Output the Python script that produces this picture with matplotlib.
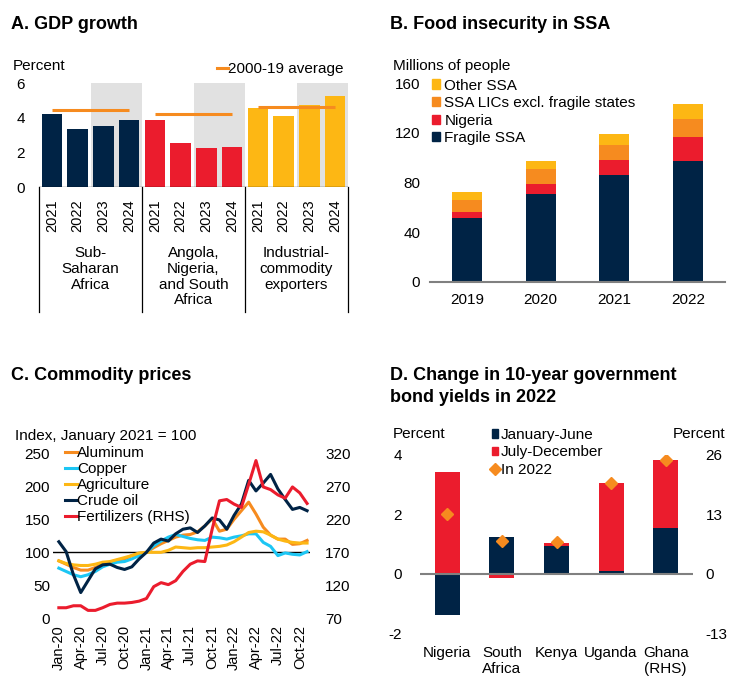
import numpy as np
import matplotlib
matplotlib.use("Agg")
import matplotlib.pyplot as plt
from matplotlib.lines import Line2D
from matplotlib.patches import Patch

plt.rcParams["font.family"] = ["Liberation Sans", "DejaVu Sans"]
plt.rcParams["font.size"] = 11
plt.rcParams["axes.unicode_minus"] = False

# ---------------- data ----------------
# A. GDP growth (percent)
gdp_years = ["2021", "2022", "2023", "2024"]
gdp_groups = ["Sub-\nSaharan\nAfrica",
              "Angola,\nNigeria,\nand South\nAfrica",
              "Industrial-\ncommodity\nexporters"]
gdp_ssa = [4.23, 3.35, 3.54, 3.87]
gdp_ans = [3.87, 2.54, 2.25, 2.35]
gdp_ind = [4.56, 4.13, 4.75, 5.27]
gdp_avg = [4.44, 4.25, 4.65]

# B. Food insecurity (millions of people)
food_years = ["2019", "2020", "2021", "2022"]
food_fragile = [51.5, 70.5, 86.0, 97.0]
food_nigeria = [5.0, 8.5, 12.5, 20.0]
food_lics = [9.0, 11.5, 12.0, 14.0]
food_other = [7.0, 6.5, 8.5, 12.0]

# C. Commodity prices, monthly Jan-20 .. Nov-22 (Jan 2021 = 100)
month_ticks = ["Jan-20", "Apr-20", "Jul-20", "Oct-20", "Jan-21", "Apr-21",
               "Jul-21", "Oct-21", "Jan-22", "Apr-22", "Jul-22", "Oct-22"]
aluminum = [87, 82, 77, 73, 73, 77, 82, 85, 88, 90, 95, 98,
            100, 107, 113, 118, 123, 126, 127, 131, 140, 151,
            132, 135, 150, 163, 176, 158, 138, 126, 120, 120, 112, 113, 118]
copper = [76, 71, 66, 63, 66, 71, 78, 82, 85, 86, 90, 95,
          100, 110, 117, 123, 127, 124, 121, 119, 118, 123,
          122, 120, 123, 125, 128, 128, 115, 109, 95, 99, 97, 96, 101]
agriculture = [87, 83, 81, 80, 80, 82, 85, 86, 89, 92, 95, 99,
               100, 100, 100, 103, 108, 107, 106, 107, 107, 108,
               109, 111, 116, 123, 130, 132, 131, 126, 120, 117, 115, 114, 114]
crude_oil = [116, 101, 66, 39, 57, 75, 81, 82, 77, 74, 78, 90,
             100, 114, 120, 117, 128, 135, 137, 130, 140, 152,
             149, 135, 156, 173, 209, 193, 205, 218, 196, 180, 165, 168, 163]
fertilizers = [86, 86, 89, 89, 82, 82, 86, 91, 93, 93, 94, 96,
               100, 118, 124, 121, 127, 141, 152, 157, 156, 205,
               248, 250, 243, 238, 273, 309, 269, 265, 257, 252, 269, 260, 244]

# D. Change in 10-year government bond yields (percent; Ghana on RHS)
bond_countries = ["Nigeria", "South\nAfrica", "Kenya", "Uganda", "Ghana\n(RHS)"]
bond_h1 = [-1.40, 1.25, 0.95, 0.10, 10.1]
bond_h2 = [3.42, -0.15, 0.09, 2.96, 14.8]
bond_year = [2.02, 1.09, 1.06, 3.05, 24.9]

# ---------------- styling ----------------
NAVY = "#002345"
RED = "#EB1C2D"
ORANGE = "#F68B1F"
YELLOW = "#FDB714"
CYAN = "#1CC6F4"
SHADE = "#E1E1E1"
GRID = "#808080"

W, H = 733, 677
fig = plt.figure(figsize=(W / 100, H / 100), dpi=100)


def px_axes(x0, y0, x1, y1):
    return fig.add_axes([x0 / W, 1 - y1 / H, (x1 - x0) / W, (y1 - y0) / H])


def fxy(x, y):
    return (x / W, 1 - y / H)


def ftext(x, y, s, **kw):
    kw.setdefault("va", "baseline")
    fig.text(x / W, 1 - y / H, s, **kw)


def strip(ax):
    for sp in ax.spines.values():
        sp.set_visible(False)


# ---------------- A. GDP growth ----------------
ftext(11, 29, "A. GDP growth", fontsize=13, fontweight="bold")
axA = px_axes(39, 83.3, 348, 187.3)
xa = np.arange(12)
valsA = gdp_ssa + gdp_ans + gdp_ind
colsA = [NAVY] * 4 + [RED] * 4 + [YELLOW] * 4
axA.bar(xa, valsA, width=0.8, color=colsA, zorder=2)
for g in range(3):
    axA.axvspan(4 * g + 1.5, 4 * g + 3.5, color=SHADE, lw=0, zorder=0)
    axA.hlines(gdp_avg[g], 4 * g, 4 * g + 3, color=ORANGE, lw=2.2, zorder=3)
axA.set_xlim(-0.5, 11.5)
axA.set_ylim(0, 6)
axA.set_yticks([0, 2, 4, 6])
axA.set_xticks([])
axA.tick_params(axis="y", length=0, pad=10, labelsize=11)
strip(axA)
axA.axhline(0, color="black", lw=0.9, zorder=4)
tA = axA.get_xaxis_transform()
for b in [-0.5, 3.5, 7.5, 11.5]:
    axA.plot([b, b], [0, -1.2], transform=tA, color="black", lw=0.9,
             clip_on=False)
for i in range(12):
    axA.text(xa[i], -0.115, gdp_years[i % 4], rotation=90, ha="center",
             va="top", transform=tA, fontsize=10.5)
for g in range(3):
    axA.text(4 * g + 1.5, -0.565, gdp_groups[g], ha="center", va="top",
             transform=tA, linespacing=1.16)
ftext(13, 70.5, "Percent")
fig.legend(handles=[Line2D([], [], color=ORANGE, lw=2.2)],
           labels=["2000-19 average"], loc="upper left",
           bbox_to_anchor=fxy(217, 62), frameon=False, handlelength=0.75,
           handletextpad=0.0, borderpad=0, borderaxespad=0)

# ---------------- B. Food insecurity ----------------
ftext(390, 29, "B. Food insecurity in SSA", fontsize=13, fontweight="bold")
axB = px_axes(430, 83.3, 725, 281.7)
xb = np.arange(4)
bottom = np.zeros(4)
for vals, col in [(food_fragile, NAVY), (food_nigeria, RED),
                  (food_lics, ORANGE), (food_other, YELLOW)]:
    axB.bar(xb, vals, bottom=bottom, width=0.41, color=col, zorder=2)
    bottom += np.array(vals)
axB.set_xlim(-0.5, 3.5)
axB.set_ylim(0, 160)
axB.set_yticks([0, 40, 80, 120, 160])
axB.set_xticks(xb)
axB.set_xticklabels(food_years)
strip(axB)
axB.spines["bottom"].set_visible(True)
axB.spines["bottom"].set_color(GRID)
axB.spines["bottom"].set_linewidth(1.5)
axB.tick_params(axis="y", length=0, pad=7)
axB.tick_params(axis="x", length=0, pad=8)
ftext(393, 70, "Millions of people")
fig.legend(handles=[Patch(color=YELLOW), Patch(color=ORANGE),
                    Patch(color=RED), Patch(color=NAVY)],
           labels=["Other SSA", "SSA LICs excl. fragile states", "Nigeria",
                   "Fragile SSA"],
           loc="upper left", bbox_to_anchor=fxy(431.5, 78.5), frameon=False,
           handlelength=0.55, handleheight=0.55, handletextpad=0.3,
           labelspacing=0.23, borderpad=0, borderaxespad=0)

# ---------------- C. Commodity prices ----------------
ftext(11, 380, "C. Commodity prices", fontsize=13, fontweight="bold")
axC = px_axes(53, 453.3, 310, 618.3)
axC2 = axC.twinx()
xm = np.arange(len(crude_oil))
axC.axhline(100, color="black", lw=1, zorder=1)
hC = []
for vals, col in [(aluminum, ORANGE), (copper, CYAN),
                  (agriculture, YELLOW), (crude_oil, NAVY)]:
    hC += axC.plot(xm, vals, color=col, lw=2.2, zorder=2)
hC += axC2.plot(xm, fertilizers, color=RED, lw=2.2, zorder=2)
axC.set_xlim(-0.8, 34.4)
axC.set_ylim(0, 250)
axC2.set_ylim(70, 320)
axC.set_yticks([0, 50, 100, 150, 200, 250])
axC2.set_yticks([70, 120, 170, 220, 270, 320])
axC.set_xticks(np.arange(0, len(crude_oil), 3))
axC.set_xticklabels(month_ticks, rotation=90, fontsize=10.5)
for a in (axC, axC2):
    strip(a)
axC.tick_params(axis="y", length=0, pad=2)
axC2.tick_params(axis="y", length=0, pad=11)
axC.tick_params(axis="x", length=0, pad=5)
ftext(15, 440, "Index, January 2021 = 100")
fig.legend(handles=hC,
           labels=["Aluminum", "Copper", "Agriculture", "Crude oil",
                   "Fertilizers (RHS)"],
           loc="upper left", bbox_to_anchor=fxy(65, 446), frameon=False,
           handlelength=0.78, handletextpad=0.0, labelspacing=0.13,
           borderpad=0, borderaxespad=0)

# ---------------- D. Bond yields ----------------
ftext(390, 380, "D. Change in 10-year government", fontsize=13,
      fontweight="bold")
ftext(390, 401.7, "bond yields in 2022", fontsize=13, fontweight="bold")
axD = px_axes(420, 455, 693, 633.3)
axD2 = axD.twinx()
for i in range(len(bond_countries)):
    ax = axD2 if i == 4 else axD
    h1, h2 = bond_h1[i], bond_h2[i]
    b2 = h1 if np.sign(h1) == np.sign(h2) else 0
    ax.bar(i, h1, width=0.46, color=NAVY, zorder=2)
    ax.bar(i, h2, bottom=b2, width=0.46, color=RED, zorder=2)
    ax.plot(i, bond_year[i], marker="D", ls="none", color=ORANGE,
            markersize=6.5, zorder=4)
axD2.axhline(0, color=GRID, lw=1.5, zorder=3)
axD.set_xlim(-0.5, 4.5)
axD.set_ylim(-2, 4)
axD2.set_ylim(-13, 26)
axD.set_yticks([-2, 0, 2, 4])
axD2.set_yticks([-13, 0, 13, 26])
axD.set_xticks(np.arange(len(bond_countries)))
axD.set_xticklabels(bond_countries, linespacing=1.2)
for a in (axD, axD2):
    strip(a)
axD.tick_params(axis="y", length=0, pad=13)
axD2.tick_params(axis="y", length=0, pad=9)
axD.tick_params(axis="x", length=0, pad=9)
ftext(393, 438, "Percent")
ftext(725, 438, "Percent", ha="right")
fig.legend(handles=[Patch(color=NAVY), Patch(color=RED),
                    Line2D([], [], marker="D", ls="none", color=ORANGE,
                           markersize=6)],
           labels=["January-June", "July-December", "In 2022"],
           loc="upper left", bbox_to_anchor=fxy(491.5, 428), frameon=False,
           handlelength=0.45, handleheight=0.45, handletextpad=0.15,
           labelspacing=0.22, borderpad=0, borderaxespad=0)

fig.savefig("out.png", dpi=100)
